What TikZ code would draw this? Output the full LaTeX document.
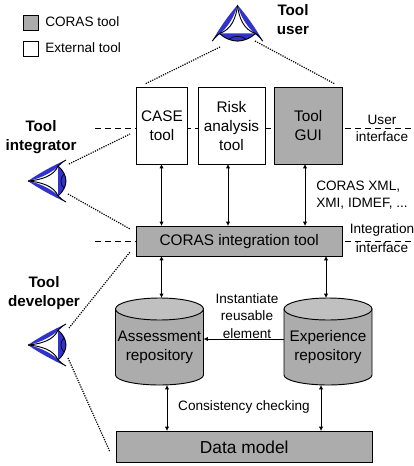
\documentclass[tikz,border=0pt]{standalone}
\usepackage{fontspec}
\setmainfont{Liberation Sans}
\usetikzlibrary{arrows.meta}
\definecolor{toolgray}{RGB}{172,172,172}
\definecolor{topgray}{RGB}{192,192,192}
\definecolor{eyeblue}{RGB}{50,50,205}
\tikzset{
  x=0.75pt,y=-0.75pt,
  boxw/.style={draw=black,fill=white,line width=0.7pt,align=center,inner sep=0pt,anchor=north west},
  boxg/.style={boxw,fill=toolgray},
  boxtext/.style={align=center,inner sep=0pt,font=\fontsize{11.5}{14.2}\selectfont},
  lab/.style={font=\fontsize{10.2}{13}\selectfont,align=center,inner sep=0pt},
  bold/.style={font=\fontsize{11.4}{14.2}\selectfont\bfseries,align=center,inner sep=0pt},
  both/.style={line width=0.6pt,{Latex[length=3.2pt,width=3.2pt]}-{Latex[length=3.2pt,width=3.2pt]}},
  single/.style={line width=0.6pt,-{Latex[length=3.2pt,width=3.2pt]}},
  iface/.style={line width=0.6pt,dash pattern=on 4.5pt off 3pt},
  sight/.style={line width=0.9pt,dash pattern=on 0.9pt off 0.9pt},
  cyl/.style={line width=0.7pt,fill=toolgray},
  cyltop/.style={line width=0.7pt,fill=topgray},
  lid/.style={line width=0.7pt},
}
\newcommand{\sizedbox}[6]{\node[#1,minimum width=#4*0.75pt,minimum height=#5*0.75pt] (#6) at (#2,#3) {};}
% eye with its inner corner at the origin, looking along +x before rotation
\newcommand{\eyeshape}[5]{%
  \begin{scope}[shift={(#1,#2)},rotate=#3,xscale=#5,yscale=#4]
    \fill[eyeblue] (30,-15) -- (30,15) .. controls (35,11) and (38,5) .. (38,0) .. controls (38,-5) and (35,-11) .. (30,-15) -- cycle;
    \fill[eyeblue] (0,0) .. controls (10,-7) and (26,-16) .. (38,-21) .. controls (33,-18) and (24,-5) .. (0,0) -- cycle;
    \fill[eyeblue] (0,0) .. controls (10,7) and (26,16) .. (38,21) .. controls (33,18) and (24,5) .. (0,0) -- cycle;
    \draw[lid] (0,0) .. controls (13,-1) and (26,-5) .. (30,-15) .. controls (32,-18) and (35,-19) .. (38,-21);
    \draw[lid] (0,0) .. controls (13,1) and (26,5) .. (30,15) .. controls (32,18) and (35,19) .. (38,21);
    \draw[lid] (30,-15) .. controls (35,-11) and (38,-5) .. (38,0) .. controls (38,5) and (35,11) .. (30,15);
    \draw[line width=0.5pt] (36,-7) .. controls (32,-4) and (32,4) .. (36,7);
  \end{scope}}
\begin{document}
\begin{tikzpicture}
\useasboundingbox (0,0) rectangle (413,466);
\fill[white] (0,0) rectangle (413,466);
% legend
\node[boxg,minimum width=15*0.75pt,minimum height=15*0.75pt] (legc) at (23,15) {};
\node[boxw,minimum width=15*0.75pt,minimum height=15*0.75pt] (lege) at (23,41) {};
\node[lab,anchor=west] (legct) at (45,22) {CORAS tool};
\node[lab,anchor=west] (leget) at (45,47.5) {External tool};
% interface lines
\coordinate (u1) at (95,128); \coordinate (u2) at (413,128);
\coordinate (i1) at (95,241); \coordinate (i2) at (413,241);
\draw[iface] (u1) -- (u2);
\draw[iface] (i1) -- (i2);
% boxes
\sizedbox{boxw}{136}{87}{51}{77}{case}
\sizedbox{boxw}{197.5}{87}{67}{77}{risk}
\sizedbox{boxg}{274}{87}{67.5}{77}{gui}
\node[boxtext] (caset) at (case.center) {CASE\\tool};
\node[boxtext] (riskt) at (risk.center) {Risk\\analysis\\tool};
\node[boxtext] (guit) at (gui.center) {Tool\\GUI};
\sizedbox{boxg}{136}{226}{205.5}{30}{integ}
\node[boxtext] (integt) at (integ.center) {CORAS integration tool};
\sizedbox{boxg}{115.5}{431}{256.5}{31}{data}
\node[boxtext,font=\fontsize{13}{15}\selectfont] (datat) at (data.center) {Data model};
% cylinders
\draw[cyl] (115.5,309) -- (115.5,375) arc[start angle=180,end angle=0,x radius=44,y radius=10] -- (203.5,309) -- cycle;
\draw[cyltop] (159.5,309) ellipse[x radius=44,y radius=11];
\draw[cyl] (284,309) -- (284,375) arc[start angle=180,end angle=0,x radius=44,y radius=10] -- (372,309) -- cycle;
\draw[cyltop] (328,309) ellipse[x radius=44,y radius=11];
\node[boxtext] (asst) at (159.5,347) {Assessment\\repository};
\node[boxtext] (expt) at (328,347) {Experience\\repository};
% arrows
\draw[both] (161.5,164) -- (161.5,226);
\draw[both] (228,164) -- (228,226);
\draw[both] (305,164) -- (305,226);
\draw[both] (161.5,256) -- (161.5,298);
\draw[both] (326,256) -- (326,298);
\draw[both] (167,385) -- (167,431);
\draw[both] (321,385) -- (321,431);
\draw[single] (284,339) -- (203.5,339);
% labels
\node[lab] (ulab1) at (382,120) {User};
\node[lab] (ulab2) at (382,137) {interface};
\node[lab] (ilab1) at (382,230) {Integration};
\node[lab] (ilab2) at (382,248) {interface};
\node[lab,align=left,anchor=west] (xml) at (316,195) {CORAS XML,\\XMI, IDMEF, ...};
\node[lab] (inst) at (247,316) {Instantiate\\reusable\\element};
\node[lab] (cons) at (244,407) {Consistency checking};
\node[bold] (tuser) at (293,20) {Tool\\user};
\node[bold] (tint) at (41,137) {Tool\\integrator};
\node[bold] (tdev) at (44,293) {Tool\\developer};
% eyes
\eyeshape{237.5}{5}{-90}{1.2}{0.95}
\eyeshape{28}{181}{0}{1}{1}
\eyeshape{28}{345}{0}{1}{1}
\coordinate (e1a) at (220,47); \coordinate (e1b) at (255,41);
\coordinate (e2a) at (69,164); \coordinate (e2b) at (68,194);
\coordinate (e3a) at (69,328); \coordinate (e3b) at (68,358);
\coordinate (c1) at (145,84); \coordinate (c2) at (335,84);
\coordinate (c3) at (130,134); \coordinate (c4) at (130,229);
\coordinate (c5) at (130,252); \coordinate (c6) at (110,452);
\draw[sight] (e1a) -- (c1);
\draw[sight] (e1b) -- (c2);
\draw[sight] (e2a) -- (c3);
\draw[sight] (e2b) -- (c4);
\draw[sight] (e3a) -- (c5);
\draw[sight] (e3b) -- (c6);
\end{tikzpicture}
\end{document}
